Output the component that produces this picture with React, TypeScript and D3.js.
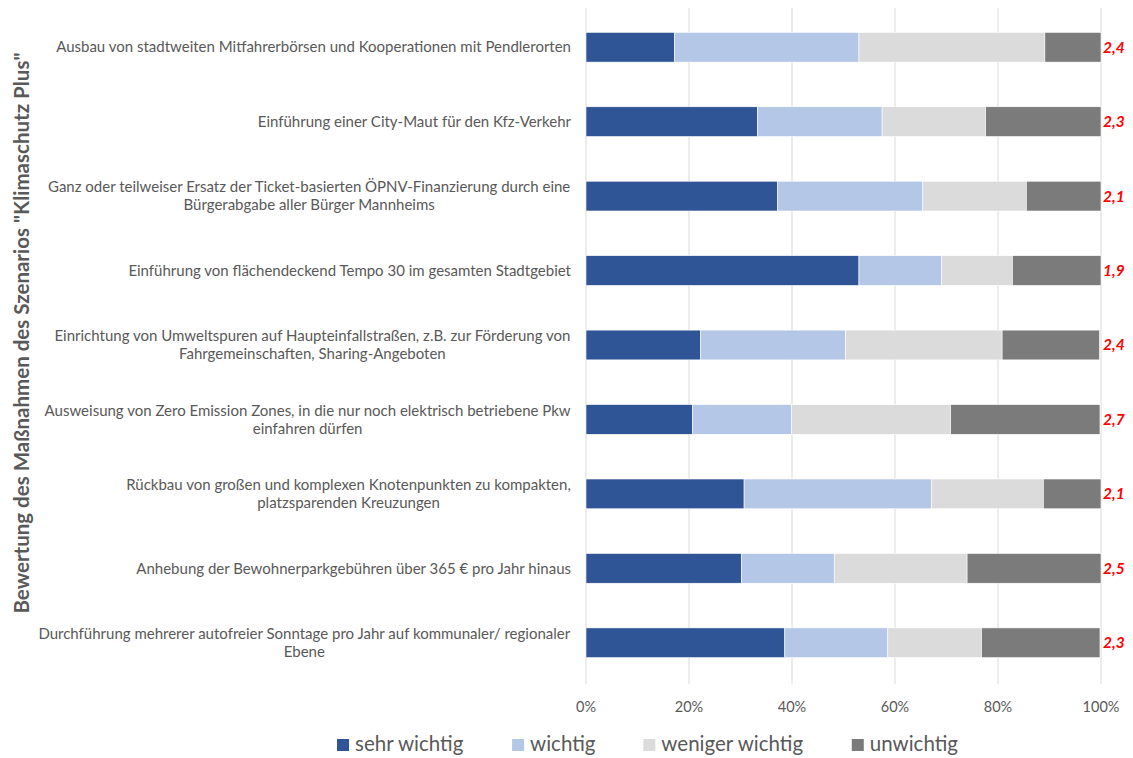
import React from "react";
import * as d3 from "d3";

const categories: string[][] = [
  ["Ausbau von stadtweiten Mitfahrerbörsen und Kooperationen mit Pendlerorten"],
  ["Einführung einer City-Maut für den Kfz-Verkehr"],
  ["Ganz oder teilweiser Ersatz der Ticket-basierten ÖPNV-Finanzierung durch eine", "Bürgerabgabe aller Bürger Mannheims"],
  ["Einführung von flächendeckend Tempo 30 im gesamten Stadtgebiet"],
  ["Einrichtung von Umweltspuren auf Haupteinfallstraßen, z.B. zur Förderung von", "Fahrgemeinschaften, Sharing-Angeboten"],
  ["Ausweisung von Zero Emission Zones, in die nur noch elektrisch betriebene Pkw", "einfahren dürfen"],
  ["Rückbau von großen und komplexen Knotenpunkten zu kompakten,", "platzsparenden Kreuzungen"],
  ["Anhebung der Bewohnerparkgebühren über 365 € pro Jahr hinaus"],
  ["Durchführung mehrerer autofreier Sonntage pro Jahr auf kommunaler/ regionaler", "Ebene"],
];

const sehrWichtig = [17.2, 33.3, 37.2, 53.0, 22.2, 20.7, 30.7, 30.2, 38.6];
const wichtig = [35.8, 24.2, 28.2, 16.0, 28.2, 19.2, 36.4, 18.0, 20.0];
const wenigerWichtig = [36.1, 20.1, 20.1, 13.8, 30.4, 30.9, 21.7, 25.8, 18.2];
const unwichtig = [10.9, 22.4, 14.5, 17.2, 18.9, 29.0, 11.2, 26.0, 23.0];
const meanLabels = ["2,4", "2,3", "2,1", "1,9", "2,4", "2,7", "2,1", "2,5", "2,3"];

const seriesNames = ["sehr wichtig", "wichtig", "weniger wichtig", "unwichtig"];
const seriesColors = ["#2F5597", "#B4C7E7", "#DBDBDB", "#7B7B7B"];
const xTicks = [0, 20, 40, 60, 80, 100];
const yTitle = 'Bewertung des Maßnahmen des Szenarios "Klimaschutz Plus"';

const FONT = "Lato, 'Open Sans', 'Liberation Sans', sans-serif";
const TEXT = "#595959";

let ctx: CanvasRenderingContext2D | null = null;
function measure(text: string, font: string): number {
  if (!ctx) ctx = document.createElement("canvas").getContext("2d");
  if (!ctx) return text.length * 7;
  ctx.font = font;
  return ctx.measureText(text).width;
}

export default function App() {
  const W = 1133, H = 758;
  const x0 = 586, x1 = 1101;
  const top = 10, bottom = 680;

  const x = d3.scaleLinear().domain([0, 100]).range([x0, x1]);
  const y = d3
    .scaleBand<number>()
    .domain(d3.range(categories.length))
    .range([top, bottom])
    .paddingInner(0.6)
    .paddingOuter(0.3);

  const rows = categories.map((c, i) => ({
    i,
    "sehr wichtig": sehrWichtig[i],
    wichtig: wichtig[i],
    "weniger wichtig": wenigerWichtig[i],
    unwichtig: unwichtig[i],
  }));
  const stack = d3.stack<any>().keys(seriesNames)(rows);

  const labelSize = 15;
  const labelFont = `${labelSize}px Lato`;
  const labelRight = 571;

  const legendSize = 20.5;
  const legendFont = `${legendSize}px Lato`;
  const sq = 12;
  const items = seriesNames.map((n) => measure(n, legendFont));
  const legendStart = 337, legendEnd = 958;
  const sumItems = items.reduce((a, w) => a + sq + 6 + w, 0);
  const gapItem = Math.max(20, (legendEnd - legendStart - sumItems) / (items.length - 1));
  let lx = legendStart;
  const legendPos = items.map((w) => {
    const p = lx;
    lx += sq + 6 + w + gapItem;
    return p;
  });

  return (
    <svg width={W} height={H} style={{ position: "absolute", left: 0, top: 0, background: "#fff" }}>
      {xTicks.map((t) => (
        <line key={t} x1={x(t)} x2={x(t)} y1={8} y2={684} stroke="#D9D9D9" strokeWidth={1} />
      ))}
      {stack.map((s, si) => (
        <g key={s.key} fill={seriesColors[si]}>
          {s.map((d, i) => (
            <rect
              key={i}
              x={x(d[0])}
              y={y(i)!}
              width={x(d[1]) - x(d[0])}
              height={y.bandwidth()}
              stroke="#ffffff"
              strokeWidth={0.6}
            />
          ))}
        </g>
      ))}
      {meanLabels.map((m, i) => (
        <text
          key={i}
          x={x1 + 2}
          y={y(i)! + y.bandwidth() / 2}
          dy="0.35em"
          fill="#FF0000"
          fontFamily={FONT}
          fontSize={15.5}
          fontStyle="italic"
          fontWeight="bold"
        >
          {m}
        </text>
      ))}
      {categories.map((lines, i) => {
        const cy = y(i)! + y.bandwidth() / 2;
        const lh = 18;
        const maxW = Math.max(...lines.map((l) => measure(l, labelFont)));
        const cx = labelRight - maxW / 2;
        return (
          <text
            key={i}
            fill={TEXT}
            fontFamily={FONT}
            fontSize={labelSize}
            textAnchor={lines.length === 1 ? "end" : "middle"}
          >
            {lines.map((l, k) => (
              <tspan
                key={k}
                x={lines.length === 1 ? labelRight : cx}
                y={cy + (k - (lines.length - 1) / 2) * lh}
                dy="0.35em"
              >
                {l}
              </tspan>
            ))}
          </text>
        );
      })}
      {xTicks.map((t) => (
        <text
          key={t}
          x={x(t)}
          y={707}
          dy="0.35em"
          textAnchor="middle"
          fill={TEXT}
          fontFamily={FONT}
          fontSize={14.5}
        >
          {t}%
        </text>
      ))}
      <text
        transform={`translate(22,333) rotate(-90)`}
        textAnchor="middle"
        dy="0.35em"
        fill={TEXT}
        fontFamily={FONT}
        fontWeight="bold"
        fontSize={20.5}
      >
        {yTitle}
      </text>
      {seriesNames.map((n, i) => (
        <g key={n}>
          <rect x={legendPos[i]} y={739} width={sq} height={sq} fill={seriesColors[i]} />
          <text
            x={legendPos[i] + sq + 6}
            y={744}
            dy="0.35em"
            fill={TEXT}
            fontFamily={FONT}
            fontSize={legendSize}
          >
            {n}
          </text>
        </g>
      ))}
    </svg>
  );
}
